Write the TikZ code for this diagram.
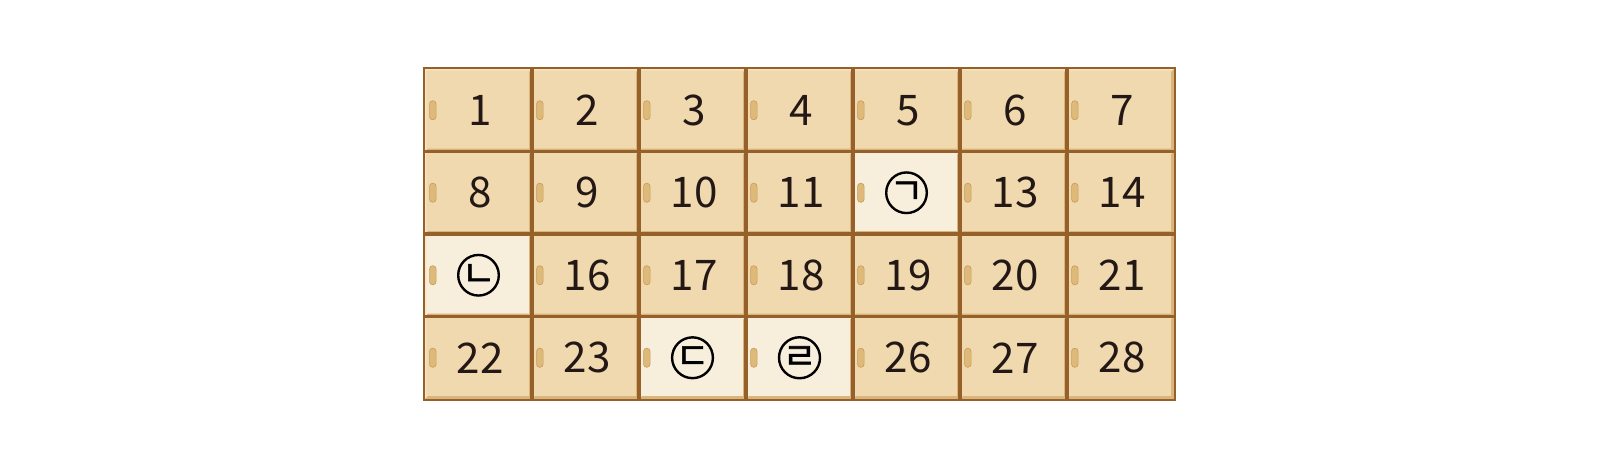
\documentclass[tikz,border=0pt]{standalone}
\usepackage{fontspec}
\newfontfamily\cjk[AutoFakeBold=1.5]{Noto Sans CJK KR}
\definecolor{boxtan}{HTML}{F0D9AE}
\definecolor{boxcream}{HTML}{F8EEDC}
\definecolor{boxshade}{HTML}{D9B47B}
\definecolor{boxlight}{HTML}{F7E6C4}
\definecolor{gridbrown}{HTML}{96602A}
\definecolor{knobfill}{HTML}{DEBA7A}
\definecolor{knobline}{HTML}{C99B58}
\definecolor{numink}{HTML}{231815}
\begin{document}
\begin{tikzpicture}[
        cell/.style      = {rectangle, fill=boxtan, minimum width=1.07cm, minimum height=0.825cm, inner sep=0pt},
        blank/.style     = {fill=boxcream},
        shade/.style     = {fill=boxshade},
        light/.style     = {fill=boxlight},
        gridline/.style  = {draw=gridbrown, line width=0.017cm},
        knob/.style      = {rectangle, rounded corners=0.03cm, fill=knobfill, draw=knobline, line width=0.006cm,
                            minimum width=0.065cm, minimum height=0.19cm, inner sep=0pt},
        num/.style       = {text=numink, font=\cjk\fontsize{12}{14}\selectfont},
        letterring/.style= {circle, draw=black, line width=0.024cm, minimum size=0.4cm, inner sep=0pt,
                            font=\cjk\bfseries\fontsize{10.5}{12}\selectfont},
      ]
        \useasboundingbox[fill=white] (0,0) rectangle (16,4.7);
        % cells of the board
        \foreach \n in {1,...,28} {
            \pgfmathtruncatemacro\col{mod(\n-1,7)}
            \pgfmathtruncatemacro\row{div(\n-1,7)}
            \node[cell] (c\n) at (4.785+1.07*\col, 3.5975-0.825*\row) {};
        }
        % blank cells
        \foreach \n in {12,15,24,25}
            \node[cell, blank] at (c\n) {};
        % bevels
        \foreach \n in {1,...,28} {
            \fill[light] (c\n.south west) -- (c\n.north west) -- (c\n.north east)
                -- ++(-0.02,-0.02) -| ([shift={(0.02,0.02)}]c\n.south west) -- cycle;
            \fill[shade] (c\n.south west) -- (c\n.south east) -- (c\n.north east)
                -- ++(-0.035,-0.035) |- ([shift={(0.035,0.035)}]c\n.south west) -- cycle;
            \node[knob] (k\n) at ([xshift=0.085cm]c\n.west) {};
        }
        \foreach \n in {1,...,28}
            \draw[gridline] (c\n.south west) rectangle (c\n.north east);
        % numbers
        \foreach \n in {1,...,11,13,14,16,17,18,19,20,21,22,23,26,27,28}
            \node[num] (n\n) at ([xshift=0.015cm]c\n) {\n};
        % letters
        \node[letterring] (l12) at (c12) {ㄱ};
        \node[letterring] (l15) at (c15) {ㄴ};
        \node[letterring] (l24) at (c24) {ㄷ};
        \node[letterring] (l25) at (c25) {ㄹ};
    \end{tikzpicture}
\end{document}
